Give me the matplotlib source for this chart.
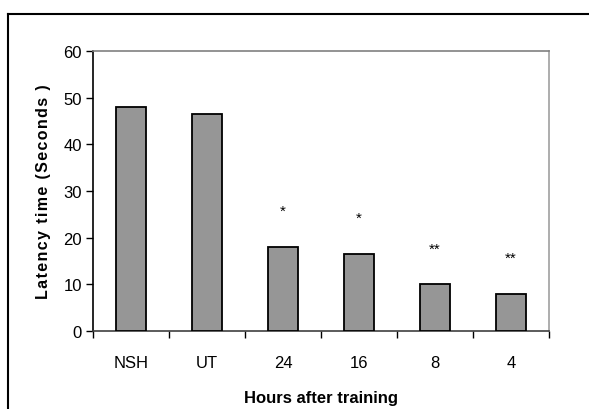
import matplotlib.pyplot as plt
from matplotlib.lines import Line2D

# data
groups = ["NSH", "UT", "24", "16", "8", "4"]
latency = [48, 46.5, 18, 16.5, 10, 8]
stars = ["", "", "*", "*", "**", "**"]
yticks = [0, 10, 20, 30, 40, 50, 60]

plt.rcParams['font.family'] = ['Liberation Sans', 'DejaVu Sans']

fig = plt.figure(figsize=(5.89, 4.10), dpi=100)
W, H = 589, 410
ax = fig.add_axes([93 / W, 1 - 332 / H, (549 - 93) / W, (332 - 52) / H])

x = list(range(len(groups)))
ax.bar(x, latency, width=0.4, color='#969696', edgecolor='black', linewidth=1.3, zorder=3)

# significance marks above the bars
for xi, v, s in zip(x, latency, stars):
    if s:
        ax.text(xi, v + 7.7, s, ha='center', va='center', fontsize=11)

ax.set_xlim(-0.5, len(groups) - 0.5)
ax.set_ylim(0, 60)
ax.set_yticks(yticks)
ax.set_yticklabels([str(t) for t in yticks], fontsize=12)
ax.set_xticks(x)
ax.set_xticklabels(groups, fontsize=12)
ax.set_xticks([i - 0.5 for i in range(len(groups) + 1)], minor=True)
ax.tick_params(axis='x', which='major', length=0, pad=17)
ax.tick_params(axis='x', which='minor', length=5, width=1, direction='out', color='black')
ax.tick_params(axis='y', length=5, width=1, direction='out', pad=3)

ax.spines['top'].set_color('#808080')
ax.spines['right'].set_color('#a0a0a0')
ax.spines['bottom'].set_color('#404040')
ax.spines['left'].set_color('black')
for sp in ax.spines.values():
    sp.set_linewidth(1.2)

ylab = "Latency time (Seconds )"
ylab_spaced = "\u200a".join(ylab)
ax.set_xlabel("Hours after training", fontsize=12, fontweight='bold', labelpad=15)
ax.set_ylabel(ylab_spaced, fontsize=11.5, fontweight='bold', labelpad=9)

# outer frame (top and left edges only, as in the cropped original)
fig.add_artist(Line2D([8 / W, 1], [1 - 15 / H, 1 - 15 / H], color='black', linewidth=1.5))
fig.add_artist(Line2D([8 / W, 8 / W], [0, 1 - 15 / H], color='black', linewidth=1.5))

fig.savefig("out.png", dpi=100)
